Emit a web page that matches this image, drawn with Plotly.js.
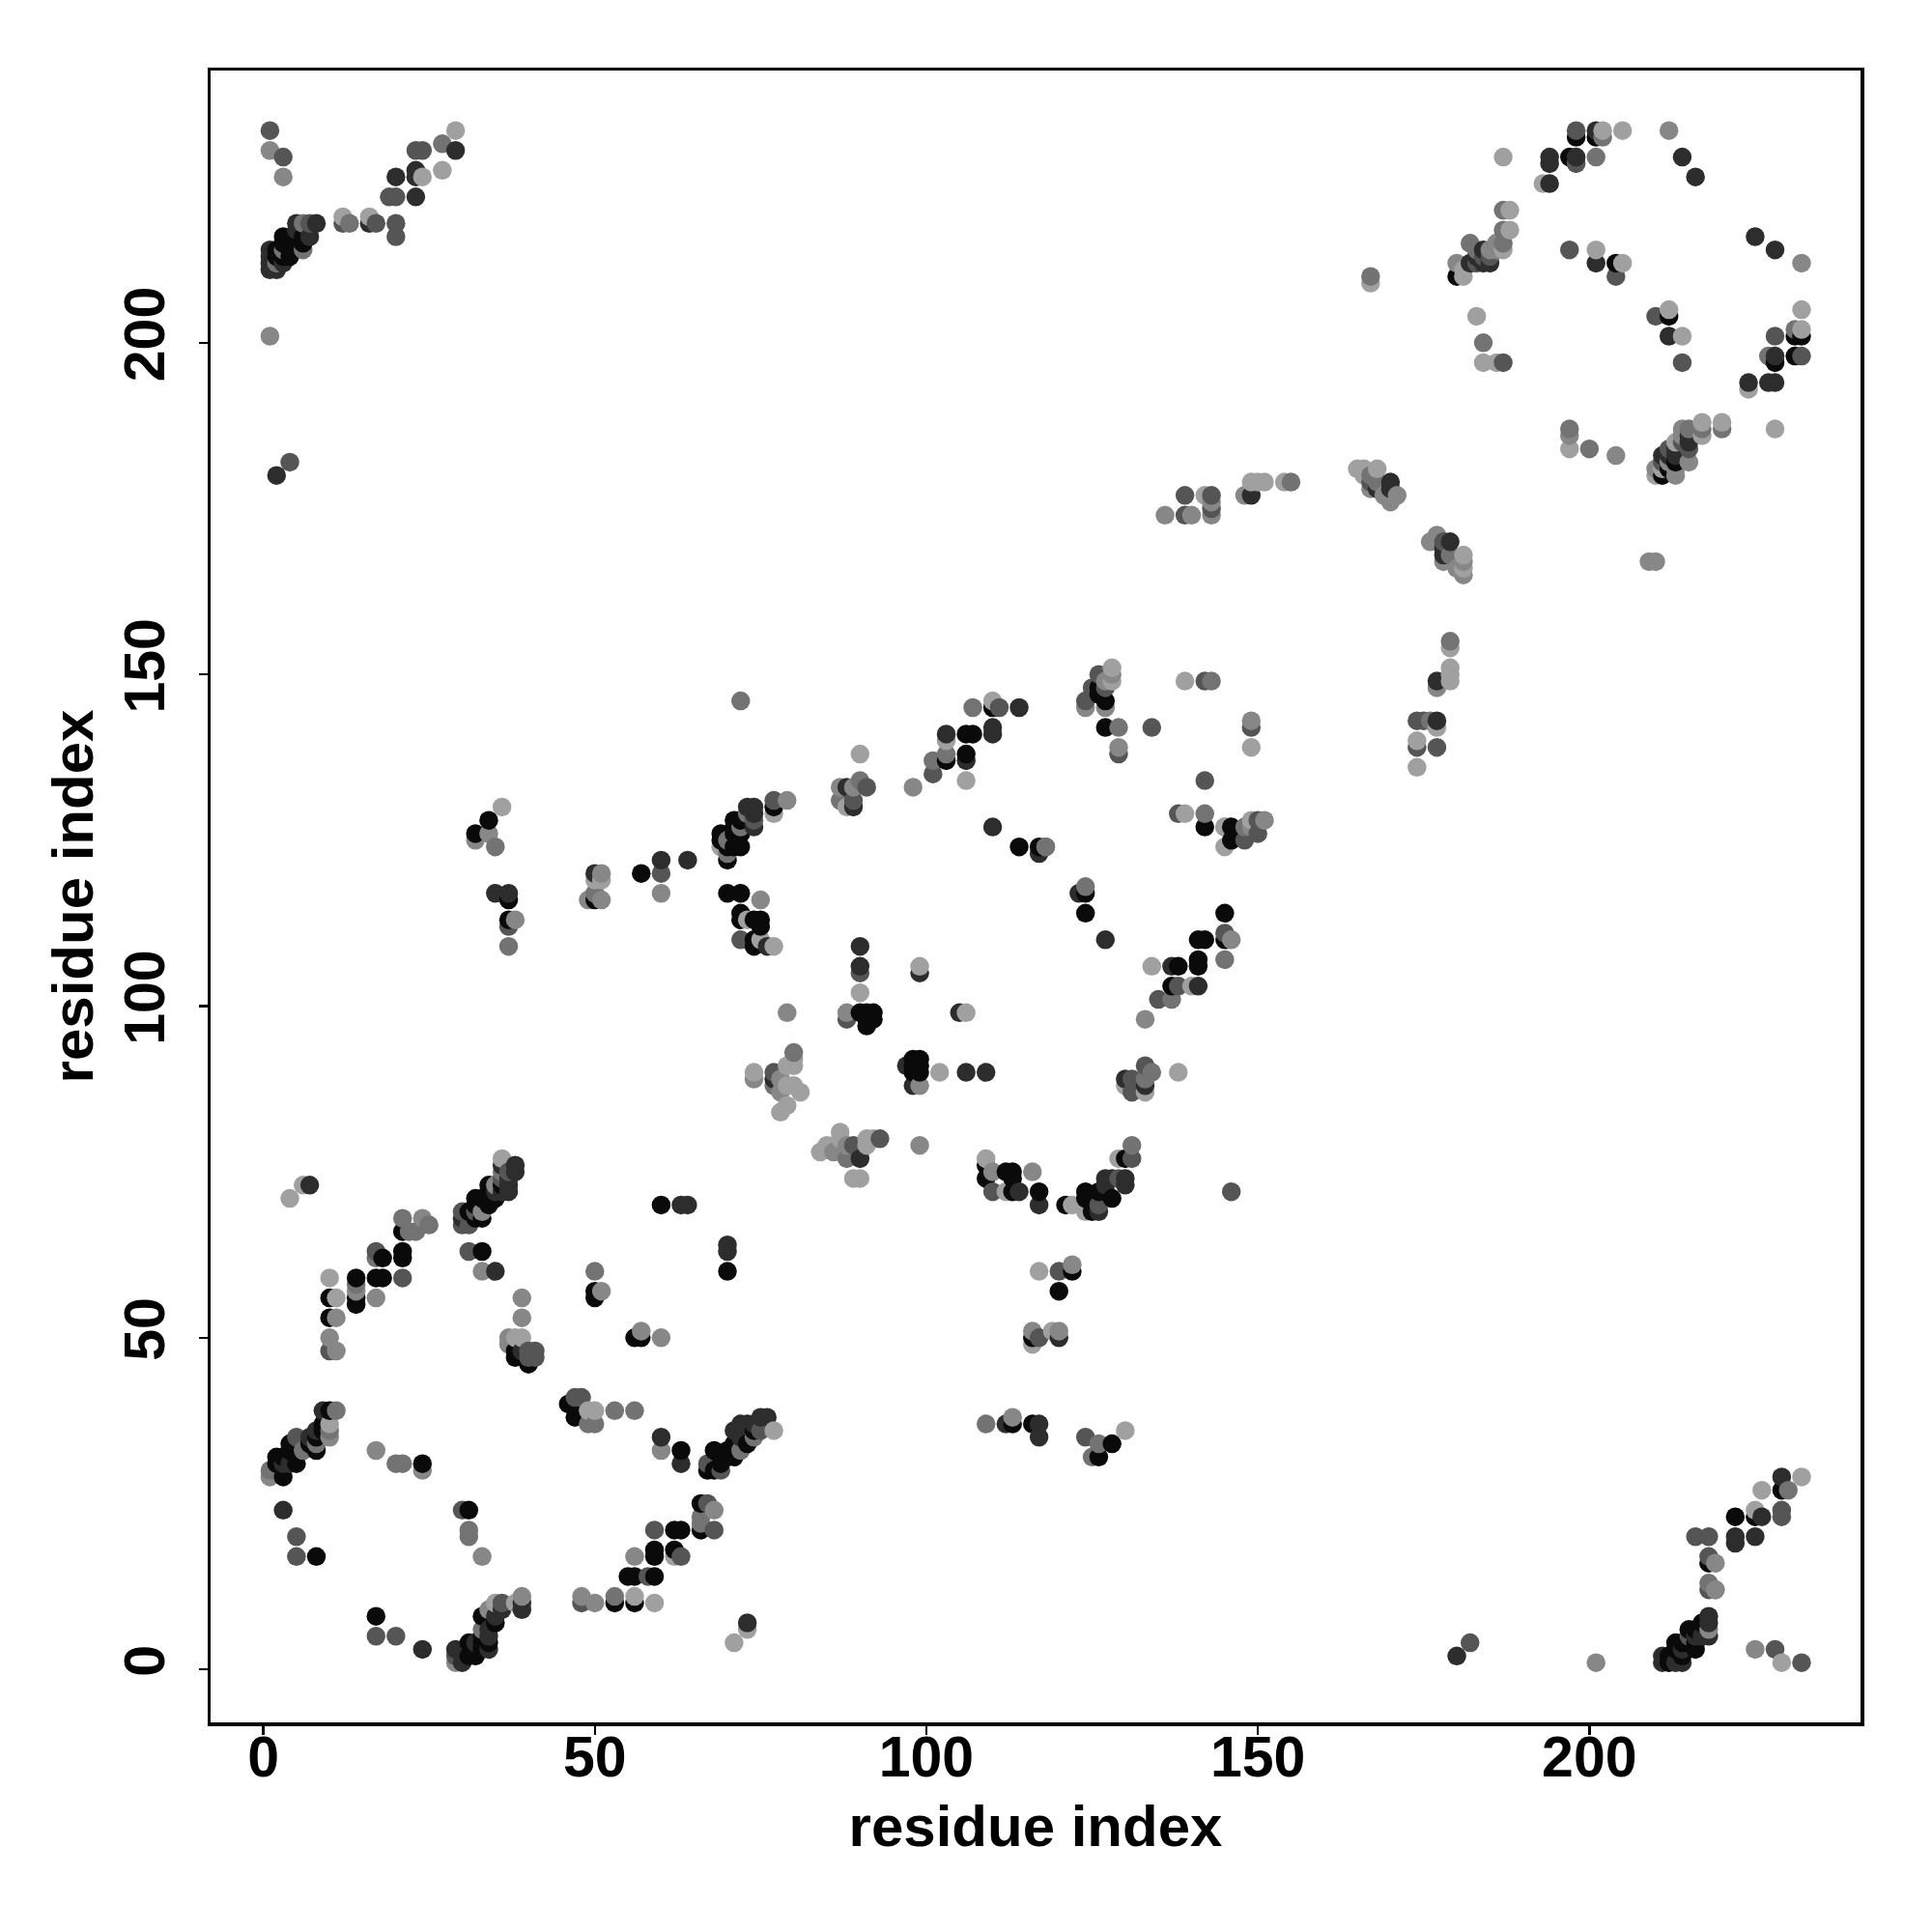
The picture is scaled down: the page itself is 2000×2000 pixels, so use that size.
<!DOCTYPE html>
<html><head><meta charset="utf-8">
<script src="https://cdn.plot.ly/plotly-3.0.1.min.js"></script>
<style>html,body{margin:0;padding:0;background:#fff}</style></head>
<body><div id="chart" style="width:2000px;height:2000px"></div>
<script>
const tickValues = [0, 50, 100, 150, 200];
const axisLabel = "residue index";
const blackContacts = [[21,66],[18,62],[21,63],[21,62],[14,59],[17,59],[18,59],[14,56],[14,55],[10,56],[10,53],[34,73],[34,72],[32,71],[33,71],[31,69],[32,68],[33,68],[32,70],[33,63],[38,47],[38,48],[40,46],[50,57],[50,56],[47,40],[46,40],[47,38],[10,39],[9,36],[8,35],[8,33],[4,34],[2,32],[3,32],[5,31],[3,29],[24,31],[8,17],[31,24],[55,14],[56,14],[53,10],[56,10],[33,8],[17,8],[31,2],[32,2],[33,4],[34,4],[60,70],[70,60],[56,50],[57,50],[63,33],[68,33],[67,30],[68,30],[70,33],[71,32],[71,34],[73,34],[74,36],[66,25],[66,21],[62,21],[63,21],[59,18],[59,17],[62,18],[59,14],[109,76],[109,74],[112,75],[113,75],[113,74],[113,72],[117,72],[113,37],[116,37],[120,57],[122,60],[128,71],[127,72],[126,72],[125,71],[124,72],[124,71],[121,70],[125,69],[126,32],[128,34],[130,77],[3,216],[6,216],[6,215],[3,215],[4,213],[2,214],[4,214],[198,231],[201,231],[197,228],[204,212],[212,204],[231,201],[232,201],[228,197],[231,198],[213,182],[211,180],[229,27],[222,23],[225,23],[218,16],[217,7],[216,6],[216,3],[215,6],[213,4],[214,4],[214,2],[212,1],[110,145],[106,141],[107,141],[103,137],[106,138],[77,130],[71,128],[72,128],[71,127],[72,126],[71,126],[69,126],[69,125],[70,124],[72,124],[71,124],[70,122],[70,117],[72,117],[72,114],[72,113],[74,113],[75,113],[75,112],[74,110],[74,109],[90,99],[91,99],[92,99],[91,98],[92,98],[91,97],[98,92],[99,92],[98,91],[99,91],[99,90],[98,90],[114,124],[117,124],[124,117],[124,114],[127,146],[127,142],[126,148],[126,147],[146,127],[146,125],[147,126],[142,127],[145,114],[145,110],[141,110],[142,110],[141,107],[141,106],[138,106],[137,103],[34,128],[32,126],[37,116],[37,113],[50,116],[57,120],[116,50],[2,31],[4,33],[5,33],[7,34],[9,37],[31,4],[32,3],[33,3],[33,5],[35,7],[34,70],[35,71],[36,73],[69,31],[70,32],[212,2],[213,3],[215,4],[216,4],[212,181],[5,216],[4,215],[3,213],[2,213],[5,215]];
const darkContacts = [[7,73],[38,76],[38,75],[37,74],[37,73],[37,72],[35,60],[9,39],[3,24],[39,9],[36,9],[24,3],[29,3],[30,1],[34,6],[34,5],[63,70],[64,70],[70,64],[70,63],[60,35],[63,31],[72,37],[73,37],[72,35],[75,38],[76,38],[73,7],[117,37],[117,35],[114,72],[117,70],[120,50],[1,214],[1,213],[1,212],[1,211],[2,211],[5,218],[8,218],[23,226],[23,225],[20,225],[23,222],[29,229],[16,218],[2,180],[201,232],[214,228],[216,225],[194,228],[194,227],[198,228],[194,224],[201,212],[225,216],[228,214],[212,201],[228,198],[224,194],[227,194],[228,194],[215,185],[215,186],[213,183],[213,184],[229,29],[226,23],[222,20],[222,19],[225,20],[218,8],[218,7],[218,5],[211,2],[211,1],[214,1],[180,2],[103,141],[110,142],[110,141],[106,137],[114,145],[89,130],[88,133],[74,130],[73,130],[74,129],[74,127],[76,109],[90,109],[90,106],[99,105],[105,99],[106,90],[109,90],[110,127],[117,123],[123,117],[97,91],[98,88],[127,110],[137,106],[141,103],[130,89],[133,88],[149,177],[170,179],[168,178],[170,178],[179,170],[178,169],[177,149],[177,143],[35,117],[37,117],[50,120],[60,122],[64,122],[130,74],[130,73],[128,74],[127,74],[127,73],[126,69],[36,76],[112,37],[30,68],[39,10],[90,77],[77,89],[39,48],[3,31],[4,31],[7,35],[8,36],[32,4],[34,3],[35,8],[36,72],[35,72],[71,36],[74,37],[217,5],[216,5],[213,1],[214,3],[2,212],[3,212],[5,217],[7,216],[183,213],[185,212],[184,214],[212,183],[211,183],[178,168]];
const midDarkContacts = [[17,63],[21,59],[10,48],[31,63],[41,48],[41,47],[40,47],[47,41],[48,41],[30,69],[30,67],[5,20],[5,17],[17,5],[20,5],[36,10],[48,10],[59,21],[120,60],[110,72],[63,17],[29,2],[1,232],[3,228],[12,218],[17,218],[20,218],[20,216],[19,222],[20,222],[23,229],[24,229],[4,182],[7,218],[198,232],[198,227],[197,214],[204,210],[210,204],[214,197],[228,201],[232,198],[212,184],[215,184],[143,177],[216,20],[218,20],[218,17],[218,12],[228,3],[232,1],[229,24],[229,23],[182,4],[111,145],[101,135],[91,133],[89,131],[77,131],[74,128],[72,110],[90,105],[88,98],[77,90],[126,150],[125,148],[127,148],[124,146],[134,142],[142,149],[149,142],[142,134],[138,129],[129,138],[148,125],[150,128],[150,126],[145,111],[138,103],[135,101],[131,89],[131,87],[133,91],[131,77],[146,72],[124,35],[139,177],[139,174],[174,139],[177,139],[174,143],[175,143],[167,179],[178,170],[60,120],[37,112],[68,21],[67,25],[58,14],[75,36],[69,30],[67,31],[118,124],[129,74],[30,24],[126,70],[117,50],[31,67],[187,197],[143,175],[40,48],[36,74],[215,5],[214,185],[211,182],[89,79],[93,80],[184,213],[186,215],[5,35],[32,69],[37,75]];
const midContacts = [[21,68],[25,67],[22,66],[17,62],[14,58],[23,66],[11,39],[10,36],[31,21],[13,218],[27,230],[2,212],[6,218],[6,214],[3,214],[36,75],[187,215],[187,220],[187,217],[227,198],[231,202],[202,231],[201,228],[215,187],[220,187],[217,187],[200,184],[219,12],[230,27],[218,13],[107,145],[103,138],[101,137],[87,131],[80,93],[77,88],[133,89],[134,90],[137,101],[143,149],[124,118],[129,142],[142,129],[148,127],[179,168],[179,155],[176,143],[167,180],[155,179],[168,179],[145,107],[118,124],[66,22],[35,124],[37,109],[50,117],[66,23],[126,34],[125,32],[131,79],[53,11],[49,37],[50,37],[53,39],[56,39],[6,33],[20,31],[21,31],[31,20],[197,187],[72,146],[90,134],[50,60],[109,37],[184,200],[167,210],[70,123],[88,77],[70,125],[72,127],[73,129],[1,30],[33,6],[183,214],[2,30],[8,34],[72,33],[74,35]];
const grayContacts = [[24,68],[11,53],[10,50],[17,56],[39,56],[39,53],[37,50],[37,49],[11,48],[56,17],[33,60],[17,33],[24,30],[33,17],[48,11],[50,10],[39,11],[51,57],[57,51],[60,50],[60,33],[60,117],[122,61],[110,75],[116,75],[99,79],[3,225],[201,1],[225,3],[219,16],[219,12],[218,6],[204,183],[232,212],[197,186],[214,187],[215,182],[213,180],[213,181],[210,181],[209,167],[210,167],[146,110],[98,133],[79,131],[75,116],[79,99],[88,99],[99,88],[78,89],[78,87],[74,89],[87,133],[89,133],[87,79],[129,139],[124,145],[127,149],[128,150],[127,145],[133,98],[178,167],[180,166],[181,165],[176,170],[177,170],[177,171],[169,177],[171,177],[170,176],[167,178],[148,177],[136,174],[140,174],[149,143],[51,116],[49,116],[51,120],[38,113],[32,125],[34,126],[68,24],[1,201],[1,229],[14,57],[177,148],[181,167],[145,127],[149,127],[151,128],[212,232],[116,51],[120,51],[113,38],[143,176],[143,174],[86,78],[88,79],[214,186],[212,182],[186,214],[1,29],[29,1],[34,9],[10,35],[33,69],[35,73]];
const lightContacts = [[6,73],[4,71],[10,59],[11,56],[36,77],[38,50],[39,50],[49,39],[50,39],[10,37],[35,10],[38,10],[56,11],[59,10],[62,17],[71,4],[73,6],[77,36],[109,77],[112,72],[116,49],[117,60],[119,51],[130,36],[129,77],[124,69],[122,70],[12,219],[16,219],[24,225],[27,226],[29,232],[187,228],[193,224],[202,232],[205,232],[188,220],[188,217],[187,214],[201,214],[205,212],[212,205],[214,201],[232,205],[232,202],[224,193],[228,187],[197,184],[220,188],[217,188],[217,186],[213,185],[210,180],[211,181],[226,27],[225,24],[229,1],[232,29],[167,209],[183,204],[184,197],[186,197],[181,210],[110,146],[106,134],[103,140],[90,138],[90,102],[99,106],[106,99],[102,90],[77,129],[69,124],[75,110],[73,113],[77,109],[80,92],[79,91],[80,91],[74,90],[79,88],[80,88],[81,87],[79,85],[78,84],[87,81],[85,79],[84,78],[91,80],[92,80],[91,79],[88,130],[145,124],[139,149],[149,139],[139,129],[145,127],[149,128],[128,151],[128,149],[134,106],[140,103],[138,90],[130,88],[133,87],[142,177],[149,179],[150,179],[151,179],[154,179],[165,181],[166,181],[168,181],[166,180],[181,168],[181,166],[179,154],[179,151],[179,150],[179,149],[177,142],[174,140],[174,136],[50,119],[51,119],[36,130],[89,74],[90,74],[87,80]];
const mixedContacts = [[180,212,135],[180,210,10],[182,212,45],[183,212,85],[184,212,45],[182,215,115],[185,214,135],[185,213,85],[186,215,135],[181,211,160]];

const shadeGroups = [[blackContacts,10],[darkContacts,45],[midDarkContacts,85],[midContacts,115],[grayContacts,135],[lightContacts,160]];
const points = [];
shadeGroups.forEach(([list, level]) => list.forEach(([x, y]) => points.push({x, y, level})));
mixedContacts.forEach(([x, y, level]) => points.push({x, y, level}));
points.sort((a, b) => a.x - b.x || a.y - b.y);

const axisBase = {
  tickmode: "array", tickvals: tickValues, ticktext: tickValues.map(String),
  ticks: "outside", ticklen: 9, tickwidth: 2.5, tickcolor: "#000",
  showgrid: false, zeroline: false, showline: true, mirror: true, linecolor: "#000", linewidth: 3.5,
  tickfont: {family: "Liberation Sans", size: 59, color: "#000", weight: 700},
  automargin: false
};
const titleFont = {family: "Liberation Sans", size: 60, color: "#000", weight: 700};
Plotly.newPlot("chart", [{
  type: "scatter", mode: "markers",
  x: points.map(p => p.x), y: points.map(p => p.y),
  marker: {size: 19.5, color: points.map(p => `rgb(${p.level},${p.level},${p.level})`), line: {width: 0}},
  hoverinfo: "x+y"
}], {
  width: 2000, height: 2000, showlegend: false,
  paper_bgcolor: "#fff", plot_bgcolor: "#fff",
  margin: {l: 217.5, r: 73.5, t: 72.5, b: 217, pad: 0},
  xaxis: {...axisBase, range: [-7.95, 240.89], ticklabelstandoff: -27, title: {text: axisLabel, standoff: 18, font: titleFont}},
  yaxis: {...axisBase, range: [-8.0, 241.05], tickangle: -90, ticklabelstandoff: 12, title: {text: axisLabel, standoff: 2, font: titleFont}}
}, {displayModeBar: false, staticPlot: true});
</script></body></html>
